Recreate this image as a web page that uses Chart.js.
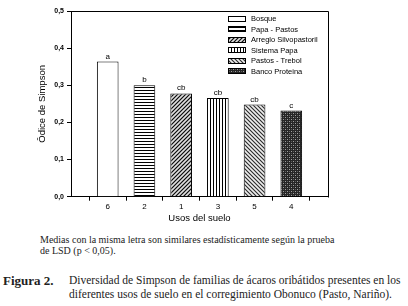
<!DOCTYPE html>
<html><head><meta charset="utf-8">
<script src="https://cdn.jsdelivr.net/npm/chart.js@4.4.1/dist/chart.umd.min.js"></script>
<style>
html,body{margin:0;padding:0;background:#fff;width:408px;height:306px;overflow:hidden;}
#wrap{position:absolute;left:0;top:0;width:408px;height:230px;}
.t{position:absolute;white-space:nowrap;color:#222;font-family:"Liberation Serif","DejaVu Serif",serif;}
</style></head><body>
<div id="wrap"><canvas id="c"></canvas></div>
<div class="t" id="n1" style="left:40px;top:234px;font-size:10px;">Medias con la misma letra son similares estadísticamente según la prueba</div>
<div class="t" id="n2" style="left:40px;top:245px;font-size:10px;">de LSD (p &lt; 0,05).</div>
<div class="t" style="left:3px;top:273px;font-size:13px;font-weight:bold;">Figura 2.</div>
<div class="t" id="f1" style="left:69px;top:274px;font-size:11.5px;">Diversidad de Simpson de familias de ácaros oribátidos presentes en los</div>
<div class="t" id="f2" style="left:69px;top:288px;font-size:11.5px;">diferentes usos de suelo en el corregimiento Obonuco (Pasto, Nariño).</div>
<script>
// ---- data ----
const categories = ['', '6', '2', '1', '3', '5', '4', ''];
const seriesNames = ['Bosque', 'Papa - Pastos', 'Arreglo Silvopastoril', 'Sistema Papa', 'Pastos - Trebol', 'Banco Proteina'];
const simpsonValues = [null, 0.364, 0.300, 0.278, 0.266, 0.248, 0.232, null];
const lsdLetters = [null, 'a', 'b', 'cb', 'cb', 'cb', 'c', null];
const yTicks = [0, 0.1, 0.2, 0.3, 0.4, 0.5];

// ---- patterns ----
function mk(w, h, fn) {
  const c = document.createElement('canvas'); c.width = w; c.height = h;
  const g = c.getContext('2d'); fn(g, w, h);
  return document.getElementById('c').getContext('2d').createPattern(c, 'repeat');
}
function px(g, x, y, col) { g.fillStyle = col; g.fillRect(x, y, 1, 1); }
const patterns = [
  '#ffffff',
  mk(3, 3, (g) => { g.fillStyle = '#fff'; g.fillRect(0,0,3,3); g.fillStyle = '#000'; g.fillRect(0,0,3,1); }),
  mk(4, 4, (g) => { g.fillStyle = '#9a9a9a'; g.fillRect(0,0,4,4); for (let i=0;i<4;i++){ px(g,i,3-i,'#111'); px(g,(i+2)%4,3-i,'#e0e0e0'); } }),
  mk(3, 3, (g) => { g.fillStyle = '#fff'; g.fillRect(0,0,3,3); g.fillStyle = '#000'; g.fillRect(0,0,1,3); }),
  mk(4, 4, (g) => { g.fillStyle = '#b4b4b4'; g.fillRect(0,0,4,4); for (let i=0;i<4;i++){ px(g,i,i,'#333'); px(g,(i+2)%4,i,'#eeeeee'); } }),
  mk(4, 4, (g) => { g.fillStyle = '#262626'; g.fillRect(0,0,4,4); px(g,1,1,'#a0a0a0'); px(g,3,3,'#a0a0a0'); px(g,1,3,'#5a5a5a'); px(g,3,1,'#5a5a5a'); })
];
const barColors = [null].concat(patterns).concat([null]);

const AX = 'Arial, "Liberation Sans", sans-serif';

const deco = {
  id: 'deco',
  afterDatasetsDraw(chart) {
    const ctx = chart.ctx, a = chart.chartArea;
    ctx.save();
    // frame top & right
    ctx.strokeStyle = '#000'; ctx.lineWidth = 1;
    ctx.beginPath();
    ctx.moveTo(Math.round(a.left)+0.5, Math.round(a.top)+0.5);
    ctx.lineTo(Math.round(a.right)+0.5, Math.round(a.top)+0.5);
    ctx.lineTo(Math.round(a.right)+0.5, Math.round(a.bottom)+0.5);
    ctx.stroke();
    // letters
    const meta = chart.getDatasetMeta(0);
    ctx.fillStyle = '#000'; ctx.font = '8px ' + AX; ctx.textAlign = 'center'; ctx.textBaseline = 'alphabetic';
    meta.data.forEach((el, i) => { if (lsdLetters[i]) ctx.fillText(lsdLetters[i], el.x, el.y - 3); });
    // legend
    ctx.font = '7.5px ' + AX; ctx.textAlign = 'left'; ctx.textBaseline = 'middle';
    seriesNames.forEach((n, i) => {
      const y = 18.7 + i * 10.45;
      ctx.fillStyle = patterns[i];
      ctx.fillRect(228, Math.round(y - 3), 17, 5);
      ctx.strokeStyle = '#000';
      ctx.strokeRect(228.5, Math.round(y - 3) + 0.5, 17, 5);
      ctx.fillStyle = '#000';
      ctx.fillText(n, 251, y + 0.5);
    });
    // axis titles
    ctx.font = '9.5px ' + AX; ctx.textAlign = 'center'; ctx.textBaseline = 'middle';
    ctx.fillText('Usos del suelo', (a.left + a.right) / 2, 218);
    ctx.translate(42, (a.top + a.bottom) / 2);
    ctx.rotate(-Math.PI / 2);
    ctx.fillText('Ôdice de Simpson', 0, 0);
    ctx.restore();
  }
};

new Chart(document.getElementById('c'), {
  type: 'bar',
  data: {
    labels: categories,
    datasets: [{
      data: simpsonValues,
      backgroundColor: barColors,
      borderColor: '#000',
      borderWidth: 1,
      borderSkipped: 'bottom',
      barPercentage: 0.59,
      categoryPercentage: 1
    }]
  },
  options: {
    responsive: true, maintainAspectRatio: false, animation: false,
    devicePixelRatio: 1,
    layout: { padding: { top: 11, right: 80, bottom: 0, left: 0 } },
    plugins: { legend: { display: false }, tooltip: { enabled: false } },
    scales: {
      x: {
        offset: false,
        grid: { drawOnChartArea: false, drawTicks: true, tickLength: 4, color: '#000' },
        border: { color: '#000', width: 1 },
        ticks: { color: '#000', font: { family: AX, size: 8 }, padding: 1, maxRotation: 0, autoSkip: false },
        afterFit(s) { s.height = 33.3; }
      },
      y: {
        min: 0, max: 0.5,
        afterBuildTicks(s) { s.ticks = yTicks.map(v => ({ value: v })); },
        grid: { drawOnChartArea: false, drawTicks: true, tickLength: 4, color: '#000' },
        border: { color: '#000', width: 1 },
        ticks: { color: '#000', font: { family: AX, size: 7, weight: 'bold' }, padding: 3,
          callback: v => v.toFixed(1).replace('.', ',') },
        afterFit(s) { s.width = 71; }
      }
    }
  },
  plugins: [deco]
});
</script>
</body></html>
